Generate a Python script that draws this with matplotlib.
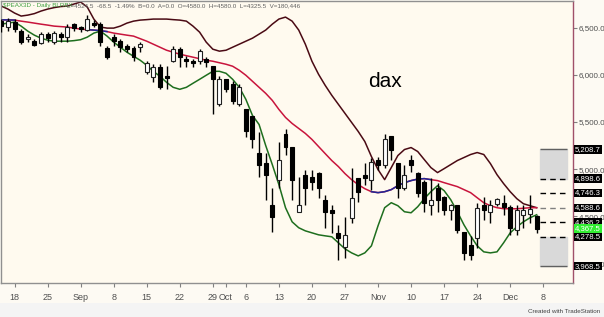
import numpy as np
import matplotlib.pyplot as plt
from matplotlib.transforms import blended_transform_factory

# daily bars, Aug 14 .. Dec 5
opens = [6572, 6508, 6562, 6466, 6381, 6359, 6338, 6434, 6349, 6434,
         6402, 6540, 6508, 6477, 6551, 6540, 6285, 6402, 6359, 6306,
         6285, 6295, 6029, 5976, 6082, 5986, 6146, 6274, 6167, 6146,
         6146, 6167, 6093, 5688, 5954, 5901, 5688, 5634, 5560, 5176,
         5069, 4622, 4888, 5368, 5240, 4547, 4941, 4920, 4963, 4675,
         4568, 4323, 4174, 4483, 4910, 4941, 4888, 5101, 5048, 5347,
         5069, 4803, 5101, 4963, 4867, 4622, 4803, 4707, 4568, 4622,
         4334, 4195, 4270, 4622, 4547, 4632, 4643, 4600, 4355, 4515,
         4526, 4504]
highs = [6594, 6604, 6594, 6487, 6434, 6381, 6455, 6455, 6466, 6455,
         6540, 6551, 6519, 6636, 6583, 6562, 6306, 6434, 6381, 6327,
         6306, 6349, 6146, 6114, 6114, 6093, 6306, 6295, 6199, 6167,
         6274, 6189, 6093, 5986, 5954, 5933, 5901, 5634, 5560, 5389,
         5176, 4803, 5293, 5421, 5240, 4920, 4995, 4995, 4973, 4728,
         4622, 4408, 4494, 5016, 4910, 5069, 5123, 5133, 5368, 5347,
         5069, 5048, 5155, 4973, 4888, 4910, 4856, 4718, 4632, 4622,
         4334, 4291, 4643, 4707, 4675, 4696, 4728, 4622, 4622, 4622,
         4728, 4515]
lows = [6455, 6466, 6455, 6327, 6349, 6306, 6327, 6349, 6327, 6349,
        6349, 6466, 6455, 6466, 6508, 6306, 6167, 6306, 6242, 6242,
        6146, 6242, 6012, 5922, 5848, 5848, 6135, 6082, 6082, 6082,
        6114, 6082, 5581, 5666, 5816, 5688, 5666, 5336, 5229, 4920,
        4675, 4334, 4803, 5155, 4675, 4547, 4622, 4782, 4696, 4377,
        4323, 4035, 4057, 4430, 4654, 4835, 4782, 4995, 5016, 5101,
        4696, 4782, 4973, 4707, 4547, 4515, 4547, 4515, 4462, 4323,
        4035, 4035, 4163, 4462, 4430, 4611, 4515, 4302, 4302, 4377,
        4430, 4323]
closes = [6519, 6572, 6487, 6349, 6402, 6317, 6434, 6391, 6445, 6402,
          6508, 6498, 6487, 6594, 6530, 6349, 6189, 6359, 6295, 6274,
          6189, 6327, 6125, 6082, 5869, 5965, 6274, 6189, 6146, 6125,
          6253, 6135, 5954, 5954, 5848, 5720, 5869, 5400, 5315, 5048,
          4941, 4494, 5101, 5240, 4888, 4622, 4803, 4867, 4803, 4547,
          4536, 4270, 4302, 4696, 4760, 4910, 5080, 5048, 5315, 5208,
          4803, 4941, 5048, 4750, 4643, 4675, 4675, 4568, 4622, 4355,
          4110, 4089, 4590, 4568, 4622, 4686, 4600, 4377, 4568, 4568,
          4579, 4367]

# band indicator
upper = [6732, 6700, 6658, 6626, 6636, 6652, 6679, 6700, 6716, 6727,
         6732, 6754, 6775, 6722, 6594, 6509, 6498, 6498, 6519, 6551,
         6572, 6583, 6588, 6594, 6594, 6594, 6588, 6583, 6572, 6519,
         6455, 6349, 6274, 6253, 6263, 6295, 6327, 6359, 6391, 6434,
         6477, 6540, 6594, 6615, 6572, 6477, 6327, 6146, 6007, 5890,
         5784, 5688, 5592, 5496, 5400, 5293, 5133, 4995, 4888, 5016,
         5144, 5208, 5229, 5187, 5101, 5016, 4963, 5005, 5048, 5091,
         5123, 5155, 5176, 5155, 5059, 4941, 4846, 4760, 4686, 4632,
         4611, 4590]
middle = [6586, 6585, 6583, 6572, 6562, 6551, 6540, 6530, 6519, 6514,
          6509, 6498, 6487, 6482, 6477, 6471, 6461, 6445, 6434, 6423,
          6413, 6386, 6359, 6327, 6295, 6263, 6242, 6221, 6205, 6189,
          6173, 6157, 6146, 6130, 6114, 6093, 6050, 5997, 5933, 5869,
          5805, 5730, 5634, 5549, 5485, 5432, 5379, 5315, 5240, 5165,
          5091, 5027, 4952, 4888, 4835, 4792, 4760, 4750, 4760, 4782,
          4824, 4856, 4878, 4894, 4899, 4888, 4878, 4856, 4835, 4814,
          4782, 4750, 4696, 4643, 4611, 4590, 4579, 4579, 4579, 4584,
          4590, 4590]
lower = [6540, 6551, 6562, 6519, 6466, 6423, 6391, 6370, 6359, 6359,
         6359, 6365, 6375, 6402, 6445, 6466, 6413, 6349, 6295, 6242,
         6199, 6157, 6103, 6039, 5986, 5922, 5869, 5848, 5869, 5912,
         5954, 5997, 6039, 6039, 6018, 5954, 5869, 5741, 5570, 5474,
         5251, 5048, 4835, 4590, 4440, 4377, 4344, 4323, 4302, 4291,
         4281, 4217, 4153, 4110, 4078, 4110, 4185, 4398, 4590, 4643,
         4611, 4547, 4536, 4600, 4686, 4760, 4824, 4771, 4675, 4547,
         4408, 4291, 4185, 4121, 4110, 4121, 4217, 4323, 4387, 4440,
         4483, 4515]
blue_spans = [(0, 2), (13, 16), (56, 65)]

tick_pos = [2, 7, 12, 17, 22, 27, 32, 34, 37, 42, 47, 52, 57, 62, 67, 72, 77, 82]
tick_lab = ['18', '25', 'Sep', '8', '15', '22', '29', 'Oct', '6', '13', '20', '27',
            'Nov', '10', '17', '24', 'Dec', '8']

levels = [5208.7, 4898.6, 4746.3, 4588.6, 4436.2, 4278.5, 3968.5]
last_price = 4367.5

plt.rcParams['font.family'] = ['Liberation Sans', 'DejaVu Sans']

fig = plt.figure(figsize=(6.04, 3.17), dpi=100, facecolor='#fdfaf3')
ax = fig.add_axes([1 / 604, 34 / 317, 572 / 604, 282 / 317], facecolor='#fffaef')

x = np.arange(len(opens))
o = np.array(opens)
c = np.array(closes)
up = c >= o

# candles
ax.vlines(x, lows, highs, color='black', lw=1, zorder=3)
body_lo = np.minimum(o, c)
body_h = np.maximum(np.abs(c - o), 8)
ax.bar(x[up], body_h[up], bottom=body_lo[up], width=0.6, color='white',
       edgecolor='#202020', lw=0.8, zorder=4)
ax.bar(x[~up], body_h[~up], bottom=body_lo[~up], width=0.6, color='black',
       edgecolor='black', lw=0.8, zorder=4)

# bands
ax.plot(x, upper, color='#4a0a14', lw=1.1, zorder=2)
ax.plot(x, middle, color='#c8143c', lw=1.1, zorder=2)
for a, b in blue_spans:
    ax.plot(x[a:b + 1], middle[a:b + 1], color='#1e2896', lw=1.1, zorder=2)
ax.plot(x, lower, color='#1e6e1e', lw=1.1, zorder=2)

# projection boxes on the right
bx0, bx1 = 81.5, 85.6
ax.fill_between([bx0, bx1], levels[1], levels[0], color='#d9d9d9', zorder=1)
ax.fill_between([bx0, bx1], levels[6], levels[5], color='#d9d9d9', zorder=1)
ax.hlines([levels[0], levels[6]], bx0, bx1, color='#606060', lw=1, zorder=2)
ax.hlines([levels[3]], bx0, bx1, color='#808080', lw=1, linestyles=(0, (4, 3)), zorder=2)
ax.hlines([levels[1], levels[2], levels[4], levels[5]], bx0, bx1, color='black', lw=1,
          linestyles=(0, (4, 3)), zorder=2)

ax.text(58, 5870, 'dax', fontsize=15, ha='center', va='baseline', color='black')

ax.set_xlim(-0.05, 86.5)
ax.set_ylim(3790, 6786)

ax.yaxis.tick_right()
ax.set_yticks([4000, 4500, 5000, 5500, 6000, 6500])
ax.set_yticklabels(['{:,.1f}'.format(v) for v in [4000, 4500, 5000, 5500, 6000, 6500]])
ax.tick_params(axis='y', length=3, width=0.8, color='#808080', labelsize=5.8,
               labelcolor='#505050', pad=1)
ax.set_xticks(tick_pos)
ax.set_xticklabels(tick_lab)
ax.tick_params(axis='x', length=3, width=0.8, color='#808080', labelsize=6.5,
               labelcolor='#505050', pad=4)

for s in ['top', 'left', 'bottom']:
    ax.spines[s].set_color('#909090')
    ax.spines[s].set_linewidth(1)
ax.spines['right'].set_color('#a0506a')
ax.spines['right'].set_linewidth(1)

# price labels on the right axis
tr = blended_transform_factory(ax.transAxes, ax.transData)
for v in levels:
    ax.text(1.0035, v, '{:,.1f}'.format(v), transform=tr, fontsize=5.6, color='white',
            va='center', ha='left', zorder=6,
            bbox=dict(boxstyle='square,pad=0.1', fc='black', ec='none'))
ax.text(1.0035, last_price, '{:,.1f}'.format(last_price), transform=tr, fontsize=5.6,
        color='white', va='center', ha='left', zorder=6,
        bbox=dict(boxstyle='square,pad=0.1', fc='#33ee33', ec='none'))

# header line
fig.text(3 / 604, 1 - 6 / 317, '$PEAX3D - Daily BLRBX', fontsize=4.5, color='#40a040',
         va='center', ha='left')
fig.text(67 / 604, 1 - 6 / 317,
         'L=4524.5  -68.5  -1.49%  B=0.0  A=0.0  O=4580.0  H=4580.0  L=4325.5  V=180,446',
         fontsize=4.5, color='#606060', va='center', ha='left')

# bottom strip
fig.patches.append(plt.Rectangle((0, 0), 1, 14 / 317, transform=fig.transFigure,
                                 fc='#f4f4f4', ec='none'))
fig.text(600 / 604, 3 / 317, 'Created with TradeStation', fontsize=4.5, color='#404040',
         ha='right', va='bottom')

fig.savefig('out.png', dpi=100, facecolor=fig.get_facecolor())
